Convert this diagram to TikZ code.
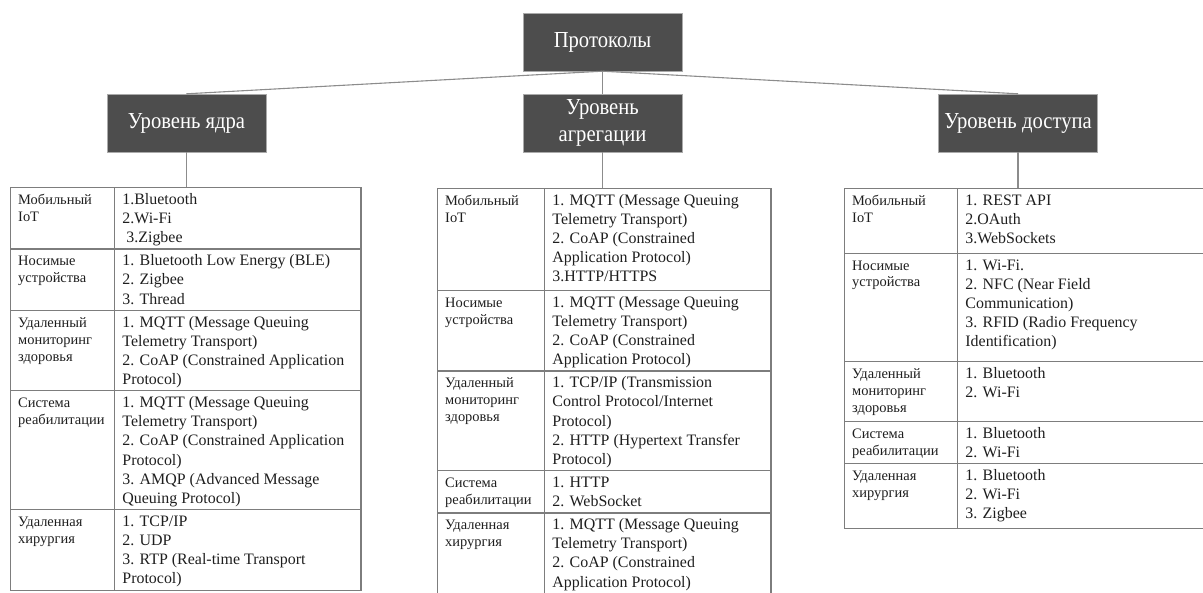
\documentclass[tikz,border=0pt]{standalone}
\usepackage{fontspec}
\setmainfont{Liberation Serif}
\newfontfamily\headfont{Liberation Serif}[FakeStretch=0.9]
\usepackage{array}
\usepackage{colortbl}
\usetikzlibrary{positioning}
\definecolor{HeadFill}{RGB}{77,77,77}
\definecolor{HeadLine}{RGB}{170,170,170}
\definecolor{LinkGray}{RGB}{140,140,140}
\definecolor{TabRule}{RGB}{125,125,125}
\definecolor{TabText}{RGB}{30,30,30}
\newcolumntype{K}[1]{>{\fontsize{14.5}{17}\selectfont\raggedright\arraybackslash}p{#1}}
\newcolumntype{V}[1]{>{\fontsize{16}{19.2}\selectfont\raggedright\arraybackslash}p{#1}}
\newcommand\rowpad[1]{\rule[-#1]{0pt}{#1}}
\setlength\tabcolsep{7bp}
\setlength\extrarowheight{2.8bp}
\setlength\arrayrulewidth{1.2bp}
\arrayrulecolor{TabRule}
\tikzset{
  head/.style={draw=HeadLine,fill=HeadFill,text=white,font=\headfont\fontsize{23}{27}\selectfont,
    minimum width=159bp,minimum height=58bp,inner sep=0pt,align=center},
  link/.style={draw=LinkGray,line width=1.1bp},
  tbl/.style={anchor=north west,inner sep=0pt,outer sep=0pt,text=TabText,
    font=\fontsize{16}{19.2}\selectfont}
}

\begin{document}
\begin{tikzpicture}[x=1bp,y=1bp]
  \useasboundingbox (0,0) rectangle (1203,-593);
  \clip (0,0) rectangle (1203,-593);
  \node[head] (proto) at (602.5,-42) {Протоколы};
  \node[head] (core) at (186.5,-123) {Уровень ядра};
  \node[head] (aggr) at (602.5,-123) {Уровень\\агрегации};
  \node[head] (access) at (1018,-123) {Уровень доступа};
  \draw[link] (proto.south) -- (core.north);
  \draw[link] (proto.south) -- (aggr.north);
  \draw[link] (proto.south) -- (access.north);

  \node[tbl] (tcore) at (10,-187) {\begin{tabular}{|K{89bp}|V{231bp}|}\hline
    Мобильный\newline IoT & 1.Bluetooth\newline 2.Wi-Fi\newline\hspace*{4bp}3.Zigbee\\\hline
    Носимые\newline устройства & 1. Bluetooth Low Energy (BLE)\newline 2. Zigbee\newline 3. Thread\\\hline
    Удаленный\newline мониторинг\newline здоровья & 1. MQTT (Message Queuing\newline Telemetry Transport)\newline
      2. CoAP (Constrained Application\newline Protocol)\\\hline
    Система\newline реабилитации & 1. MQTT (Message Queuing\newline Telemetry Transport)\newline
      2. CoAP (Constrained Application\newline Protocol)\newline 3. AMQP (Advanced Message\newline Queuing Protocol)\\\hline
    Удаленная\newline хирургия & 1. TCP/IP\newline 2. UDP\newline 3. RTP (Real-time Transport\newline Protocol)\\\hline
  \end{tabular}};

  \node[tbl] (taggr) at (437,-188) {\begin{tabular}{|K{92bp}|V{211bp}|}\hline
    Мобильный\newline IoT & 1. MQTT (Message Queuing\newline Telemetry Transport)\newline 2. CoAP (Constrained\newline
      Application Protocol)\newline 3.HTTP/HTTPS\rowpad{8bp}\\\hline
    Носимые\newline устройства & 1. MQTT (Message Queuing\newline Telemetry Transport)\newline 2. CoAP (Constrained\newline
      Application Protocol)\\\hline
    Удаленный\newline мониторинг\newline здоровья & 1. TCP/IP (Transmission\newline Control Protocol/Internet\newline
      Protocol)\newline 2. HTTP (Hypertext Transfer\newline Protocol)\\\hline
    Система\newline реабилитации & 1. HTTP\newline 2. WebSocket\\\hline
    Удаленная\newline хирургия & 1. MQTT (Message Queuing\newline Telemetry Transport)\newline 2. CoAP (Constrained\newline
      Application Protocol)\\\hline
  \end{tabular}};

  \node[tbl] (taccess) at (844,-188) {\begin{tabular}{|K{98bp}|V{246bp}|}\hline
    Мобильный\newline IoT & 1. REST API\newline 2.OAuth\newline 3.WebSockets\rowpad{9bp}\\\hline
    Носимые\newline устройства & 1. Wi-Fi.\newline 2. NFC (Near Field\newline Communication)\newline
      3. RFID (Radio Frequency\newline Identification)\rowpad{14.5bp}\\\hline
    Удаленный\newline мониторинг\newline здоровья\rowpad{8.5bp} & 1. Bluetooth\newline 2. Wi-Fi\\\hline
    Система\newline реабилитации & 1. Bluetooth\newline 2. Wi-Fi\\\hline
    Удаленная\newline хирургия & 1. Bluetooth\newline 2. Wi-Fi\newline 3. Zigbee\rowpad{9bp}\\\hline
  \end{tabular}};

  \draw[link] (core.south) -- (core.south |- tcore.north);
  \draw[link] (aggr.south) -- (aggr.south |- taggr.north);
  \draw[link] (access.south) -- (access.south |- taccess.north);
\end{tikzpicture}
\end{document}
